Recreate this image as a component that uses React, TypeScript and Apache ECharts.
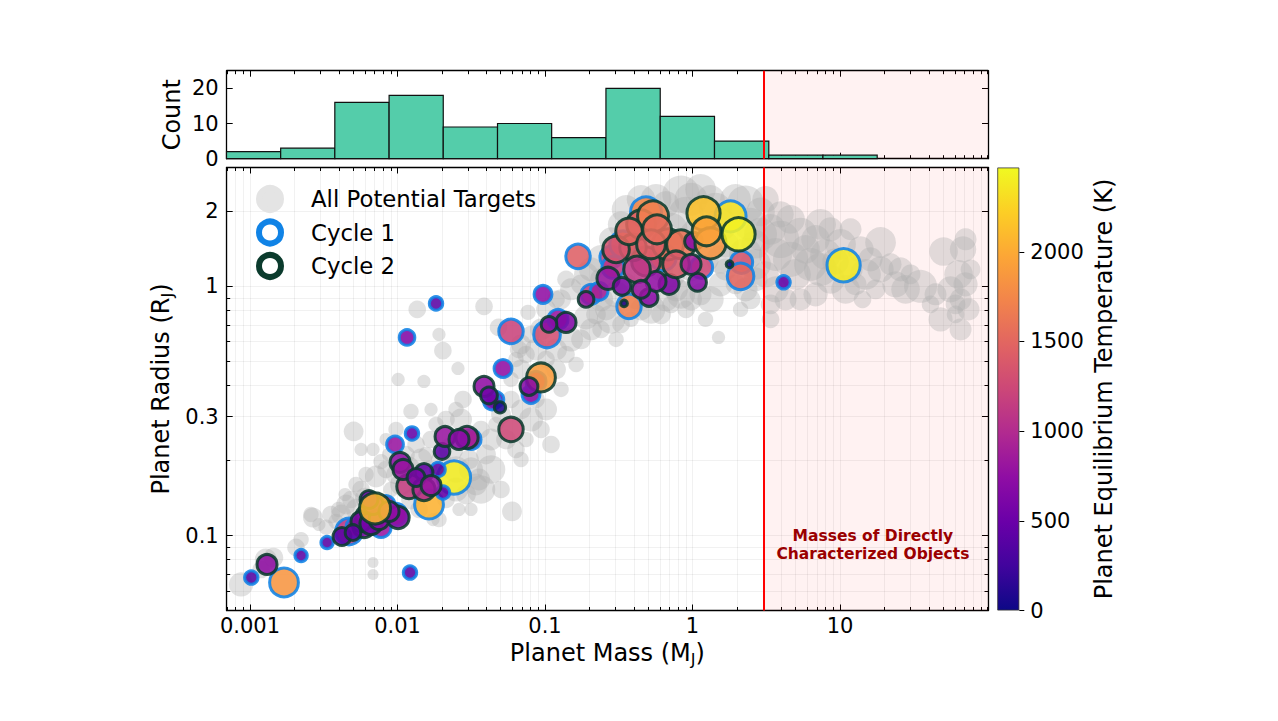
import React, { useEffect, useRef } from "react";
import * as echarts from "echarts";

// ---------------- axis ranges & tick labels (data units) ----------------
const massRange = [0.000695, 100.7];
const radiusRange = [0.05, 3.0];
const countRange = [0, 25];
const tempRange = [0, 2470];
const massTickLabels = [0.001, 0.01, 0.1, 1, 10];
const radiusTickLabels = [0.1, 0.3, 1, 2];
const countTickLabels = [0, 10, 20];
const tempTickLabels = [0, 500, 1000, 1500, 2000];
const directLimitMass = 3.0;
const annotationMass = 16.7;
const annotationRadius = 0.092;
const annotationText = "Masses of Directly\nCharacterized Objects";

// ---------------- histogram of cycle targets ----------------
const histEdges = [0.000693, 0.001614, 0.003758, 0.00877, 0.02042, 0.04764, 0.1109, 0.2588, 0.6039, 1.409, 3.289, 7.656, 17.86];
const histCounts = [2, 3, 16, 18, 9, 10, 6, 20, 12, 5, 1, 1];

// ---------------- all potential targets ----------------
const grayMass = [
  0.000869, 0.00119, 0.00128, 0.00144, 0.00205, 0.00222, 0.00267, 0.00328, 0.00354, 0.00399,
  0.00448, 0.00504, 0.00682, 0.00869, 0.00682, 0.00682, 0.00484, 0.00566, 0.00612, 0.00715,
  0.00773, 0.00836, 0.00977, 0.01056, 0.01142, 0.01335, 0.01443, 0.0156, 0.01687, 0.01824,
  0.01687, 0.02132, 0.02305, 0.02492, 0.02694, 0.0278, 0.0305, 0.0315, 0.03405, 0.03681,
  0.02913, 0.0315, 0.0357, 0.04303, 0.0503, 0.0597, 0.03981, 0.04303, 0.03681, 0.04653,
  0.05439, 0.06357, 0.06873, 0.0503, 0.0588, 0.06873, 0.07431, 0.08034, 0.09391, 0.1098,
  0.1016, 0.08686, 0.0588, 0.06873, 0.07431, 0.06357, 0.08686, 0.1016, 0.1187, 0.1284,
  0.1187, 0.1388, 0.1501, 0.1623, 0.1754, 0.2051, 0.1897, 0.2217, 0.2397, 0.2592,
  0.2802, 0.3276, 0.303, 0.2397, 0.303, 0.3542, 0.3829, 0.414, 0.4476, 0.5232,
  0.6116, 0.6612, 0.7149, 0.7729, 0.8356, 0.9034, 0.9768, 1.133, 1.324, 1.548,
  1.225, 1.5, 1.674, 1.957, 2.288, 2.474, 2.674, 2.116,
  0.1284, 0.1501, 0.1754, 0.2051, 0.2397, 0.2802, 0.3276, 0.3542, 0.4476, 0.5656,
  0.6612, 0.8356, 0.9768, 1.133, 1.324, 1.432, 0.9034, 0.7149, 1.048, 1.548,
  1.957, 2.288, 2.474, 2.674, 2.288, 2.674, 2.891, 1.225, 1.548, 1.674,
  0.9768, 0.7149, 0.6116, 0.2397, 0.1897, 0.1388, 0.1016, 0.09391, 0.08034, 0.06873,
  0.1187,
  3.38, 3.654, 3.951, 4.618, 4.618, 4.993, 5.398, 5.836, 6.31, 6.822,
  7.376, 7.376, 7.974, 8.621, 9.322, 10.08, 10.9, 11.78, 12.74, 13.77,
  14.2, 14.89, 16.1, 17.41, 18.82, 18.82, 22.0, 23.78, 25.72, 27.8,
  30.06, 35.14, 50.3, 44.4, 41.07, 48.01, 56.12, 60.67, 63.6, 68.2,
  70.92, 65.6, 70.92, 76.68, 65.6, 60.67, 74.3, 3.654, 4.272, 3.38,
  3.951, 3.126, 5.398, 6.822, 3.126, 2.891, 8.621, 11.78, 3.38,
  0.00259, 0.00293, 0.00383, 0.00441, 0.00523, 0.00414, 0.0053, 0.00602, 0.00903, 0.01234,
  0.014, 0.0191, 0.02132, 0.02492, 0.0174, 0.00977, 0.00836, 0.00566, 0.0119, 0.014,
  0.02492, 0.01972, 0.0163, 0.0261, 0.0136, 0.0191, 0.0203, 0.0257, 0.0386, 0.0101,
  0.0151, 0.0767, 0.0662, 0.01234, 0.0484,
];
const grayRadius = [
  0.0636, 0.073, 0.0801, 0.0815, 0.0896, 0.0963, 0.118, 0.108, 0.1214, 0.1272,
  0.1332, 0.2616, 0.2215, 0.2114, 0.0779, 0.0697, 0.1395, 0.153, 0.1758, 0.1725,
  0.198, 0.1841, 0.1758, 0.1602, 0.2114, 0.2319, 0.2019, 0.2114, 0.2429, 0.2791,
  0.3206, 0.2923, 0.2215, 0.3206, 0.2923, 0.3516, 0.2019, 0.1841, 0.1602, 0.153,
  0.1461, 0.1272, 0.1678, 0.1841, 0.153, 0.1249, 0.2114, 0.2429, 0.2665, 0.2791,
  0.2429, 0.2215, 0.2019, 0.3061, 0.3516, 0.3206, 0.2429, 0.2923, 0.2665, 0.2319,
  0.3206, 0.3516, 0.4231, 0.4641, 0.533, 0.5089, 0.5582, 0.5089, 0.4641, 0.3857,
  0.5582, 0.533, 0.6123, 0.4859, 0.6123, 0.6717, 0.751, 0.7717, 0.6717, 0.8083,
  0.7368, 0.7035, 0.6123, 0.8867, 0.9287, 1.019, 0.7368, 0.8867, 0.8083, 0.8083,
  0.7717, 0.8867, 0.8466, 0.9727, 0.9287, 0.8083, 0.8867, 0.9287, 0.8867, 1.019,
  0.7368, 0.6237, 1.17, 1.019, 0.9727, 0.8867, 1.067, 0.8083,
  0.8867, 0.9727, 1.019, 1.17, 1.284, 1.544, 1.774, 2.039, 2.236, 2.236,
  2.135, 2.342, 2.236, 2.453, 2.236, 2.039, 1.946, 1.694, 1.618, 1.774,
  2.236, 2.135, 1.774, 1.475, 1.344, 1.226, 1.618, 1.284, 1.284, 1.475,
  1.17, 1.117, 1.17, 1.067, 1.117, 1.067, 0.8083, 0.6717, 0.6413, 0.5847,
  0.8867,
  1.694, 1.344, 1.544, 1.858, 1.284, 1.117, 1.618, 1.408, 1.226, 1.544,
  1.17, 1.774, 1.344, 1.067, 1.26, 1.475, 0.9727, 1.17, 1.019, 1.408,
  0.8867, 1.117, 1.284, 0.9727, 1.5, 1.17, 1.226, 1.019, 1.17, 0.9727,
  1.117, 1.0, 1.38, 0.9287, 0.8466, 0.7368, 0.9727, 0.8466, 1.117, 1.408,
  1.544, 0.8867, 1.019, 1.17, 0.6717, 0.7717, 0.8083, 0.9727, 0.8867, 0.8466,
  1.946, 1.117, 0.8867, 0.9287, 2.236, 1.99, 1.694, 1.694, 0.7368,
  0.1214, 0.1107, 0.1138, 0.1461, 0.1602, 0.1214, 0.1272, 0.142, 0.153, 0.1395,
  0.1272, 0.1159, 0.1395, 0.153, 0.1159, 0.2665, 0.2429, 0.2215, 0.1875, 0.153,
  0.1841, 0.2019, 0.1841, 0.1272, 0.8083, 0.6413, 0.552, 0.4684, 0.8311, 0.4231,
  0.4154, 0.7865, 0.5582, 0.3147, 0.6844,
];
// relative marker weight (encodes a per-target metric)
const grayWeight = [
  11, 8, 10, 9, 8, 7, 9, 7, 8, 7,
  9, 9, 6, 6, 5, 5, 8, 8, 7, 10,
  7, 8, 9, 10, 8, 8, 10, 7, 8, 7,
  6, 8, 11, 7, 10, 8, 9, 11, 10, 13,
  9, 6, 10, 13, 8, 9, 9, 10, 8, 7,
  9, 8, 7, 9, 8, 9, 7, 11, 8, 8,
  10, 8, 7, 9, 8, 7, 10, 8, 9, 7,
  10, 8, 11, 7, 9, 10, 11, 9, 8, 10,
  13, 8, 7, 11, 12, 10, 7, 9, 10, 13,
  9, 11, 8, 11, 13, 8, 10, 10, 12, 11,
  7, 6, 10, 9, 11, 9, 11, 7,
  9, 10, 9, 11, 13, 11, 12, 13, 13, 14,
  12, 17, 15, 14, 13, 15, 16, 15, 14, 15,
  14, 17, 15, 13, 15, 14, 15, 12, 13, 12,
  11, 13, 11, 10, 11, 8, 9, 10, 8, 9,
  8,
  14, 15, 17, 13, 16, 14, 15, 13, 15, 13,
  15, 14, 14, 13, 12, 14, 13, 11, 10, 12,
  8, 14, 11, 9, 14, 12, 10, 12, 11, 13,
  9, 15, 13, 10, 8, 11, 12, 9, 13, 12,
  10, 10, 11, 9, 10, 8, 10, 12, 10, 9,
  12, 12, 10, 11, 12, 13, 11, 10, 8,
  7, 6, 7, 6, 7, 9, 10, 9, 7, 9,
  8, 7, 8, 11, 6, 7, 6, 6, 10, 9,
  12, 9, 8, 6, 8, 6, 8, 6, 8, 6,
  6, 7, 8, 7, 8,
];

// ---------------- Cycle 1 ----------------
const c1Mass = [
  0.00102, 0.0017, 0.00222, 0.00333, 0.00469, 0.01215, 0.02415, 0.01635, 0.00962, 0.01253,
  0.0465, 0.0803, 0.0519, 0.01824, 0.0116, 0.0969, 0.0588, 0.1032, 0.1225, 0.1674,
  0.2802, 0.2051, 0.3711, 0.4839, 1.151, 1.81, 2.149, 2.116, 4.141, 10.57,
  0.338, 0.631, 0.00523, 0.0081, 0.00836, 0.00773, 0.00977, 0.01882, 0.02035, 0.0437,
  0.03149, 0.0869, 0.2323, 0.2891,
];
const c1Radius = [
  0.0678, 0.0648, 0.0831, 0.0937, 0.1038, 0.071, 0.1709, 0.1332, 0.2319, 0.2568,
  0.3516, 0.3683, 0.4684, 0.8545, 0.6237, 0.9287, 0.6594, 0.6413, 0.7368, 1.319,
  1.308, 0.9287, 0.8311, 1.982, 1.192, 1.91, 1.249, 1.097, 1.038, 1.215,
  1.475, 1.308, 0.1077, 0.1214, 0.1332, 0.1077, 0.1214, 0.1841, 0.1488, 0.3452,
  0.2429, 0.4154, 0.9549, 1.192,
];
const c1Temp = [
  350, 1850, 400, 380, 1100, 380, 2400, 2050, 800, 450,
  550, 700, 750, 400, 650, 750, 1200, 1300, 800, 1450,
  1200, 1150, 1700, 1750, 1250, 2350, 1350, 1500, 450, 2380,
  1450, 1500, 900, 600, 800, 800, 700, 400, 450, 600,
  850, 800, 900, 1100,
];
const c1Weight = [
  7, 14, 6.5, 6.5, 13, 7, 16, 14, 8.5, 7,
  8, 9, 9, 7, 8, 9, 12, 13, 10, 12,
  11, 10, 12, 15, 11, 15, 11, 13, 7, 16,
  13, 13, 10, 9, 9, 10, 11, 7.5, 7, 8.5,
  10, 10, 9, 11,
];

// ---------------- Cycle 2 ----------------
const c2Mass = [
  0.001304, 0.0042, 0.00593, 0.00621, 0.01008, 0.0104, 0.01512, 0.01196, 0.01512,
  0.02003, 0.021, 0.02959, 0.03859, 0.0588, 0.0939, 0.1388, 0.2674, 0.3327, 0.5071,
  0.6929, 1.081, 0.4839, 0.395, 0.4476, 0.5398, 0.682, 0.8356, 1.016, 1.187,
  1.324, 2.051, 0.5656, 0.3433, 1.782, 0.0495, 0.005656, 0.006612, 0.00749, 0.00682,
  0.00641, 0.00876, 0.00499, 0.0109, 0.01335, 0.01687, 0.0417, 0.02611, 0.07787, 0.1064,
  0.1897, 0.303, 0.3711, 0.4205, 0.5232, 0.4476, 0.5745, 0.7729, 0.9768, 1.244,
  0.00704,
];
const c2Radius = [
  0.0765, 0.0991, 0.1087, 0.1192, 0.1181, 0.1964, 0.1791, 0.1573, 0.153,
  0.2174, 0.2497, 0.2474, 0.3966, 0.2665, 0.431, 0.7166, 1.077, 1.0, 0.9032,
  1.019, 1.038, 1.26, 1.434, 1.774, 1.91, 1.475, 1.475, 1.516, 1.964,
  1.489, 1.618, 1.047, 0.8545, 1.226, 0.3266, 0.1138, 0.1117, 0.1159, 0.1332,
  0.1395, 0.1249, 0.1028, 0.1841, 0.1709, 0.1587, 0.3649, 0.2429, 0.3966, 0.7035,
  0.8867, 1.408, 1.663, 1.17, 1.475, 0.9727, 1.694, 1.226, 1.226, 1.663,
  0.1284,
];
const c2Temp = [
  750, 400, 700, 650, 750, 750, 450, 1150, 1000,
  400, 800, 900, 750, 1250, 1900, 650, 800, 650, 700,
  650, 700, 1250, 1450, 1450, 1700, 1550, 1600, 700, 2150,
  1850, 2420, 750, 60, 60, 100, 650, 550, 700, 650,
  500, 750, 450, 800, 600, 800, 550, 700, 700, 700,
  800, 1350, 1500, 1100, 1450, 800, 1550, 1400, 900, 1950,
  2100,
];
const c2Weight = [
  10, 9, 11, 11, 11, 10, 9, 12, 11,
  8, 10, 11, 10, 12, 14, 10, 11, 9, 9,
  10, 9, 14, 13, 14, 15, 15, 14, 9, 16,
  15, 16, 10, 4, 4, 6, 10, 11, 10, 10,
  9, 10, 8, 10, 9, 10, 8.5, 10, 9, 8,
  8, 13, 13, 13, 14, 9, 14, 13, 10, 14,
  15,
];

// ---------------- styling ----------------
const FONT = "DejaVu Sans";
const PLASMA = ["#0d0887", "#41049d", "#6a00a8", "#8f0da4", "#b12a90", "#cc4778", "#e16462", "#f2844b", "#fca636", "#fcce25", "#f0f921"];
const CYCLE1_EDGE = "#1083e6";
const CYCLE2_EDGE = "#0b3b2d";
const HIST_FILL = "#54cdaa";
const L = Math.log10;

function logTicks(lo: number, hi: number): number[] {
  const out: number[] = [];
  for (let e = Math.floor(lo) - 1; e <= Math.ceil(hi); e++) {
    for (let k = 1; k <= 9; k++) {
      const v = L(k) + e;
      if (v >= lo - 1e-9 && v <= hi + 1e-9) out.push(v);
    }
  }
  return out;
}

const fmtLog = (v: number) => String(parseFloat(Math.pow(10, v).toPrecision(2)));

function frameAxis(gridIndex: number, position: string, range: number[], ticks: number[], len: number, extra: any = {}) {
  return {
    type: "value",
    gridIndex,
    position,
    min: range[0],
    max: range[1],
    axisLine: { show: true, onZero: false, lineStyle: { color: "#000", width: 1.3 } },
    axisTick: { show: true, inside: true, length: len, customValues: ticks, lineStyle: { color: "#000", width: 1 } },
    axisLabel: { show: false },
    splitLine: { show: false },
    axisPointer: { show: false },
    nameMoveOverlap: false,
    ...extra,
  };
}

function buildOption() {
  const lx = [L(massRange[0]), L(massRange[1])];
  const ly = [L(radiusRange[0]), L(radiusRange[1])];
  const xMajor = massTickLabels.map(L);
  const xAll = logTicks(lx[0], lx[1]);
  const yMajor = radiusTickLabels.map(L);
  const yAll = logTicks(ly[0], ly[1]);
  const lineX = L(directLimitMass);

  const gridLine = { show: true, lineStyle: { color: "rgba(0,0,0,0.07)", width: 0.8 } };
  const tickLabel = { show: true, fontFamily: FONT, fontSize: 21, color: "#000" };
  const nameStyle = {
    fontFamily: FONT, fontSize: 24, color: "#000",
    rich: { s: { fontFamily: FONT, fontSize: 16, lineHeight: 16, padding: [14, 0, 0, 0], color: "#000" } },
  };

  const xAxis = [
    // histogram (grid 0)
    frameAxis(0, "bottom", lx, xMajor, 6),
    frameAxis(0, "bottom", lx, xAll, 3.5, { axisLine: { show: false, onZero: false } }),
    frameAxis(0, "top", lx, xMajor, 6),
    frameAxis(0, "top", lx, xAll, 3.5, { axisLine: { show: false, onZero: false } }),
    // main scatter (grid 1)
    frameAxis(1, "bottom", lx, xMajor, 6, {
      axisLabel: { ...tickLabel, margin: 5, customValues: xMajor, formatter: fmtLog },
      name: "Planet Mass (M{s|J})",
      nameLocation: "middle",
      nameGap: 30,
      nameTextStyle: nameStyle,
    }),
    frameAxis(1, "bottom", lx, xAll, 3.5, { axisLine: { show: false, onZero: false }, splitLine: gridLine }),
    frameAxis(1, "top", lx, xMajor, 6),
    frameAxis(1, "top", lx, xAll, 3.5, { axisLine: { show: false, onZero: false } }),
    // colorbar (grid 2)
    { type: "category", gridIndex: 2, data: ["T"], show: false, boundaryGap: true },
  ];

  const yAxis = [
    // histogram
    frameAxis(0, "left", countRange, countTickLabels, 6, {
      axisLabel: { ...tickLabel, margin: 8, customValues: countTickLabels },
      name: "Count",
      nameLocation: "middle",
      nameGap: 43,
      nameRotate: 90,
      nameTextStyle: { fontFamily: FONT, fontSize: 24, color: "#000" },
    }),
    frameAxis(0, "right", countRange, countTickLabels, 6),
    // main
    frameAxis(1, "left", ly, yMajor, 6, {
      axisLabel: { ...tickLabel, margin: 8, customValues: yMajor, formatter: fmtLog },
      name: "Planet Radius (R{s|J})",
      nameLocation: "middle",
      nameGap: 54,
      nameRotate: 90,
      nameTextStyle: nameStyle,
    }),
    frameAxis(1, "left", ly, yAll, 3.5, { axisLine: { show: false, onZero: false }, splitLine: gridLine }),
    frameAxis(1, "right", ly, yMajor, 6),
    frameAxis(1, "right", ly, yAll, 3.5, { axisLine: { show: false, onZero: false } }),
    // colorbar
    {
      type: "value", gridIndex: 2, position: "right", min: tempRange[0], max: tempRange[1],
      axisLine: { show: false, onZero: false },
      axisTick: { show: true, inside: false, length: 5, customValues: tempTickLabels, lineStyle: { color: "#000", width: 1 } },
      axisLabel: { ...tickLabel, margin: 11, customValues: tempTickLabels, formatter: (v: number) => String(v) },
      splitLine: { show: false },
      name: "Planet Equilibrium Temperature (K)",
      nameLocation: "middle",
      nameGap: 73,
      nameRotate: 90,
      nameMoveOverlap: false,
      nameTextStyle: { fontFamily: FONT, fontSize: 24, color: "#000" },
    },
  ];

  const histData = histCounts.map((c, i) => [L(histEdges[i]), L(histEdges[i + 1]), c]);
  const grayData = grayMass.map((m, i) => [L(m), L(grayRadius[i]), grayWeight[i]]);
  const c1Data = c1Mass.map((m, i) => [L(m), L(c1Radius[i]), c1Temp[i], c1Weight[i]]);
  const c2Data = c2Mass.map((m, i) => [L(m), L(c2Radius[i]), c2Temp[i], c2Weight[i]]);

  const shade = (xi: number, yi: number) => ({
    type: "line", xAxisIndex: xi, yAxisIndex: yi, data: [], silent: true, z: 1,
    markArea: {
      silent: true,
      itemStyle: { color: "rgba(255,0,0,0.05)" },
      data: [[{ xAxis: lineX }, { xAxis: lx[1] }]],
    },
    markLine: {
      silent: true, symbol: ["none", "none"], label: { show: false },
      lineStyle: { color: "#ff0000", width: 2, type: "solid" },
      data: [{ xAxis: lineX }],
    },
  });

  const gradient = new echarts.graphic.LinearGradient(0, 1, 0, 0,
    PLASMA.map((c, i) => ({ offset: i / (PLASMA.length - 1), color: c })));

  return {
    animation: false,
    backgroundColor: "#fff",
    textStyle: { fontFamily: FONT },
    grid: [
      { left: 226.7, top: 70.7, width: 761.3, height: 88, outerBoundsMode: "none", containLabel: false },
      { left: 226.7, top: 167.5, width: 761.3, height: 443, outerBoundsMode: "none", containLabel: false },
      { left: 997.3, top: 167.5, width: 22, height: 443, outerBoundsMode: "none", containLabel: false },
    ],
    xAxis,
    yAxis,
    visualMap: {
      type: "continuous", show: false, min: tempRange[0], max: tempRange[1], dimension: 2,
      seriesIndex: [4, 5], inRange: { color: PLASMA },
    },
    legend: {
      orient: "vertical", left: 251, top: 180, itemWidth: 72, itemHeight: 22, itemGap: 5.5,
      selectedMode: false,
      textStyle: { fontFamily: FONT, fontSize: 22.8, color: "#000" },
      data: [
        { name: "All Potential Targets", icon: "circle", itemStyle: { color: "#e4e4e4", borderColor: "#e4e4e4", borderWidth: 6, opacity: 1 } },
        { name: "Cycle 1", icon: "circle", itemStyle: { color: "#fff", borderColor: CYCLE1_EDGE, borderWidth: 6, opacity: 1 } },
        { name: "Cycle 2", icon: "circle", itemStyle: { color: "#fff", borderColor: CYCLE2_EDGE, borderWidth: 6, opacity: 1 } },
      ],
    },
    series: [
      {
        type: "custom", xAxisIndex: 0, yAxisIndex: 0, z: 2, silent: true,
        encode: { x: [0, 1], y: 2 },
        data: histData,
        renderItem: (params: any, api: any) => {
          const p0 = api.coord([api.value(0), api.value(2)]);
          const p1 = api.coord([api.value(1), 0]);
          return {
            type: "rect",
            shape: { x: p0[0], y: p0[1], width: p1[0] - p0[0], height: p1[1] - p0[1] },
            style: { fill: HIST_FILL, stroke: "#111", lineWidth: 1.2 },
          };
        },
      },
      shade(0, 0),
      shade(4, 2),
      {
        type: "scatter", name: "All Potential Targets", xAxisIndex: 4, yAxisIndex: 2, z: 2, silent: true,
        data: grayData,
        symbolSize: (v: number[]) => v[2] * 2.2,
        itemStyle: { color: "#b0b0b0", opacity: 0.38 },
      },
      {
        type: "scatter", name: "Cycle 1", xAxisIndex: 4, yAxisIndex: 2, z: 3, silent: true,
        data: c1Data,
        symbolSize: (v: number[]) => v[3] * 2.2 - 2,
        itemStyle: { borderColor: CYCLE1_EDGE, borderWidth: 3, opacity: 0.88 },
      },
      {
        type: "scatter", name: "Cycle 2", xAxisIndex: 4, yAxisIndex: 2, z: 4, silent: true,
        data: c2Data,
        symbolSize: (v: number[]) => v[3] * 2.2 - 2,
        itemStyle: { borderColor: CYCLE2_EDGE, borderWidth: 3, opacity: 0.88 },
      },
      {
        type: "scatter", xAxisIndex: 4, yAxisIndex: 2, z: 6, silent: true,
        data: [[L(annotationMass), L(annotationRadius)]],
        symbolSize: 0,
        itemStyle: { opacity: 1 },
        label: {
          show: true, position: "inside", formatter: annotationText,
          fontFamily: FONT, fontWeight: "bold", fontSize: 15.5, lineHeight: 18,
          color: "#9a0000", align: "center", textBorderWidth: 0, opacity: 1,
        },
      },
      {
        type: "bar", xAxisIndex: 8, yAxisIndex: 6, silent: true, barWidth: "100%",
        data: [tempRange[1]],
        itemStyle: { color: gradient, borderColor: "#333", borderWidth: 0.8 },
      },
    ],
  };
}

export default function App() {
  const ref = useRef<HTMLDivElement>(null);
  useEffect(() => {
    if (!ref.current) return;
    const chart = echarts.init(ref.current, null, { renderer: "svg" });
    chart.setOption(buildOption() as any);
    return () => chart.dispose();
  }, []);
  return (
    <div
      ref={ref}
      style={{ position: "fixed", left: 0, top: 0, width: 1278, height: 721, background: "#fff" }}
    />
  );
}
